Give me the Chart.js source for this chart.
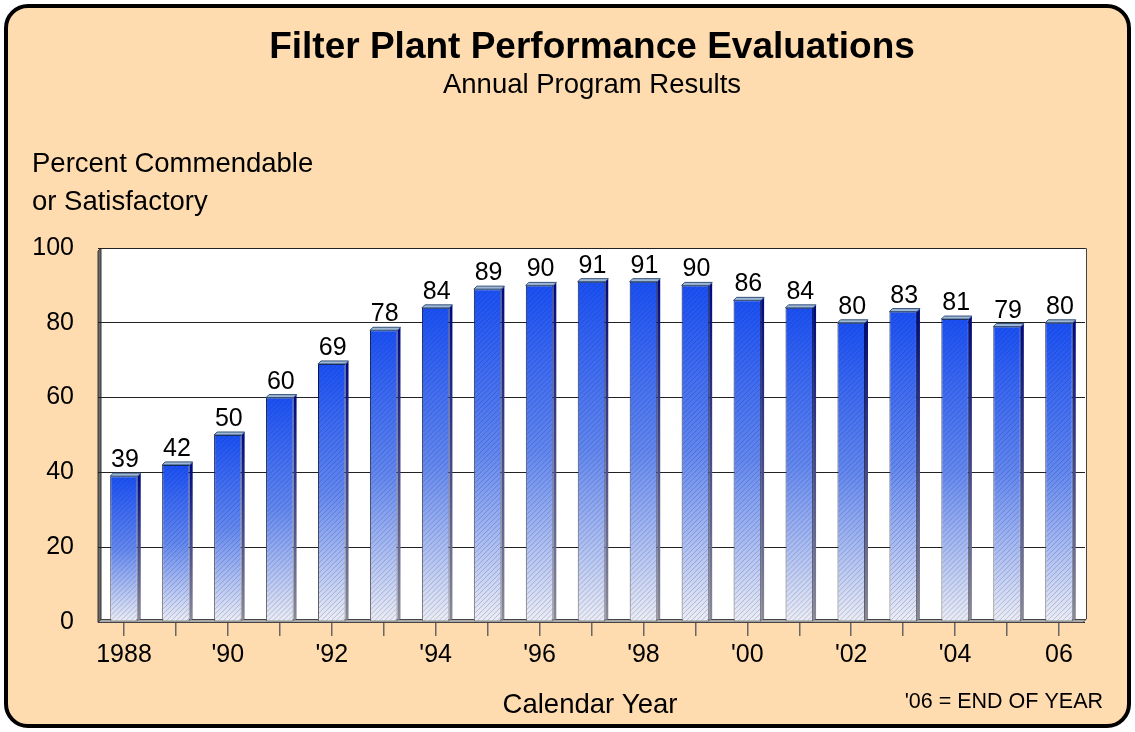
<!DOCTYPE html>
<html>
<head>
<meta charset="utf-8">
<script src="https://cdn.jsdelivr.net/npm/chart.js@4.4.1/dist/chart.umd.min.js"></script>
<style>
  html, body { margin: 0; padding: 0; background: #fff; }
  #wrap { width: 1135px; height: 732px; position: relative; }
</style>
</head>
<body>
<div id="wrap"><canvas id="mycanvas"></canvas></div>
<script>
// data
var years = [1988, 1989, 1990, 1991, 1992, 1993, 1994, 1995, 1996, 1997, 1998, 1999, 2000, 2001, 2002, 2003, 2004, 2005, 2006];
var pct = [39, 42, 50, 60, 69, 78, 84, 89, 90, 91, 91, 90, 86, 84, 80, 83, 81, 79, 80];
var tickLabels = ['1988', '', "'90", '', "'92", '', "'94", '', "'96", '', "'98", '', "'00", '', "'02", '', "'04", '', '06'];
var yTicks = [0, 20, 40, 60, 80, 100];

var FONT = "'Liberation Sans', Arial, Helvetica, sans-serif";
var DEPTH = 3;

function barTop(chart, i) {
  return chart.scales.y.getPixelForValue(pct[i]);
}

// gradient per bar, from the bar top down to zero
var fillColor = function(ctx) {
  var chart = ctx.chart;
  if (!chart.chartArea || ctx.dataIndex === undefined) return '#3366ff';
  var y0 = chart.scales.y.getPixelForValue(0);
  var y1 = barTop(chart, ctx.dataIndex);
  var g = chart.ctx.createLinearGradient(0, y1, 0, y0);
  g.addColorStop(0, '#1a50f4');
  g.addColorStop(0.5, '#6388ef');
  g.addColorStop(1, '#eceef5');
  return g;
};
var edgeColor = function(ctx) {
  var chart = ctx.chart;
  if (!chart.chartArea || ctx.dataIndex === undefined) return '#001060';
  var y0 = chart.scales.y.getPixelForValue(0);
  var y1 = barTop(chart, ctx.dataIndex);
  var g = chart.ctx.createLinearGradient(0, y1, 0, y0);
  g.addColorStop(0, '#00104a');
  g.addColorStop(1, '#666666');
  return g;
};

var panel = {
  id: 'panel',
  beforeDraw: function(chart) {
    var c = chart.ctx, a = chart.chartArea;
    var L = a.left + DEPTH, R = a.right + 1;
    c.save();
    // card
    var x = 6, y = 6, w = 1123, h = 720, r = 22;
    c.beginPath();
    c.moveTo(x + r, y);
    c.arcTo(x + w, y, x + w, y + h, r);
    c.arcTo(x + w, y + h, x, y + h, r);
    c.arcTo(x, y + h, x, y, r);
    c.arcTo(x, y, x + w, y, r);
    c.closePath();
    c.fillStyle = '#fedcaf';
    c.fill();
    c.lineWidth = 4;
    c.strokeStyle = '#000';
    c.stroke();
    // back wall
    c.fillStyle = '#ffffff';
    c.fillRect(L, a.top, R - L, a.bottom - a.top);
    c.strokeStyle = '#444';
    c.lineWidth = 1;
    c.beginPath();
    c.moveTo(L, a.top + 0.5);
    c.lineTo(R + 0.5, a.top + 0.5);
    c.lineTo(R + 0.5, a.bottom - DEPTH);
    c.stroke();
    // left side wall
    c.fillStyle = '#6a6a6a';
    c.beginPath();
    c.moveTo(a.left, a.top + DEPTH);
    c.lineTo(L, a.top);
    c.lineTo(L, a.bottom - DEPTH);
    c.lineTo(a.left, a.bottom);
    c.closePath();
    c.fill();
    c.strokeStyle = '#333';
    c.stroke();
    c.restore();

    // texts
    c.save();
    c.fillStyle = '#000';
    c.textAlign = 'center';
    c.textBaseline = 'middle';
    c.font = 'bold 37px ' + FONT;
    c.fillText('Filter Plant Performance Evaluations', 592, 48);
    c.font = '27.5px ' + FONT;
    c.fillText('Annual Program Results', 592, 85);
    c.textAlign = 'left';
    c.fillText('Percent Commendable', 32, 164);
    c.fillText('or Satisfactory', 32, 202);
    c.textAlign = 'center';
    c.fillText('Calendar Year', 590, 705);
    c.textAlign = 'right';
    c.font = '21.5px ' + FONT;
    c.fillText("'06 = END OF YEAR", 1103, 702);
    c.restore();
  },
  beforeDatasetsDraw: function(chart) {
    var c = chart.ctx, a = chart.chartArea;
    var y0 = chart.scales.y.getPixelForValue(0);
    c.save();
    c.fillStyle = '#a9a9a9';
    c.strokeStyle = '#444';
    c.lineWidth = 1;
    c.beginPath();
    c.moveTo(a.left, y0 + 0.5);
    c.lineTo(a.right - 2, y0 + 0.5);
    c.lineTo(a.right + 1, y0 - DEPTH + 0.5);
    c.lineTo(a.left + DEPTH, y0 - DEPTH + 0.5);
    c.closePath();
    c.fill();
    c.stroke();
    c.restore();
  },
  afterDatasetsDraw: function(chart) {
    var c = chart.ctx;
    var meta = chart.getDatasetMeta(0);
    c.save();
    meta.data.forEach(function(bar, i) {
      var p = bar.getProps(['x', 'y', 'width', 'base'], true);
      var l = p.x - p.width / 2, r = p.x + p.width / 2, t = p.y, b = p.base;
      // hatch
      c.save();
      c.beginPath();
      c.rect(l + 1, t + 1, r - l - 2, b - t - 2);
      c.clip();
      c.strokeStyle = 'rgba(30,30,90,0.22)';
      c.lineWidth = 1;
      c.beginPath();
      for (var k = l - (b - t); k < r + 10; k += 5) {
        c.moveTo(k, b);
        c.lineTo(k + (b - t), t);
      }
      c.stroke();
      c.restore();
      // right side
      var sg = c.createLinearGradient(0, t, 0, b);
      sg.addColorStop(0, '#000a80');
      sg.addColorStop(1, '#8a8a98');
      c.fillStyle = sg;
      c.beginPath();
      c.moveTo(r, t);
      c.lineTo(r + DEPTH, t - DEPTH);
      c.lineTo(r + DEPTH, b - DEPTH);
      c.lineTo(r, b);
      c.closePath();
      c.fill();
      // top face
      c.fillStyle = '#9fb8d6';
      c.strokeStyle = '#33507a';
      c.lineWidth = 1;
      c.beginPath();
      c.moveTo(l, t);
      c.lineTo(l + DEPTH, t - DEPTH);
      c.lineTo(r + DEPTH, t - DEPTH);
      c.lineTo(r, t);
      c.closePath();
      c.fill();
      c.stroke();
      // value
      c.fillStyle = '#000';
      c.font = '25px ' + FONT;
      c.textAlign = 'center';
      c.textBaseline = 'alphabetic';
      c.fillText(String(pct[i]), p.x + 1, t - 9);
    });
    c.restore();
  }
};

var ctx = document.getElementById('mycanvas');
var chart = new Chart(ctx, {
  type: 'bar',
  data: {
    labels: years,
    datasets: [{
      label: 'Percent Commendable or Satisfactory',
      data: pct,
      backgroundColor: fillColor,
      borderColor: edgeColor,
      borderWidth: 1,
      borderSkipped: false,
      categoryPercentage: 1.0,
      barPercentage: 0.53
    }]
  },
  plugins: [panel],
  options: {
    responsive: true,
    maintainAspectRatio: false,
    animation: false,
    layout: { padding: { top: 248, right: 50, left: 0, bottom: 0 } },
    plugins: {
      legend: { display: false },
      title: { display: false },
      tooltip: { enabled: false }
    },
    scales: {
      x: {
        afterFit: function(s) { s.height = 110; },
        grid: { display: true, drawOnChartArea: false, offset: false, tickLength: 14, color: '#666', lineWidth: 1.5 },
        border: { display: false },
        ticks: {
          autoSkip: false,
          maxRotation: 0,
          padding: 4,
          color: '#000',
          font: { family: FONT, size: 25 },
          callback: function(v, i) { return tickLabels[i]; }
        }
      },
      y: {
        min: 0,
        max: 100,
        afterFit: function(s) { s.width = 98; },
        afterBuildTicks: function(s) { s.ticks = yTicks.map(function(v) { return { value: v }; }); },
        grid: { color: '#222', drawTicks: false, lineWidth: 1 },
        border: { display: false },
        ticks: {
          padding: 24,
          color: '#000',
          font: { family: FONT, size: 25 }
        }
      }
    }
  }
});
</script>
</body>
</html>
